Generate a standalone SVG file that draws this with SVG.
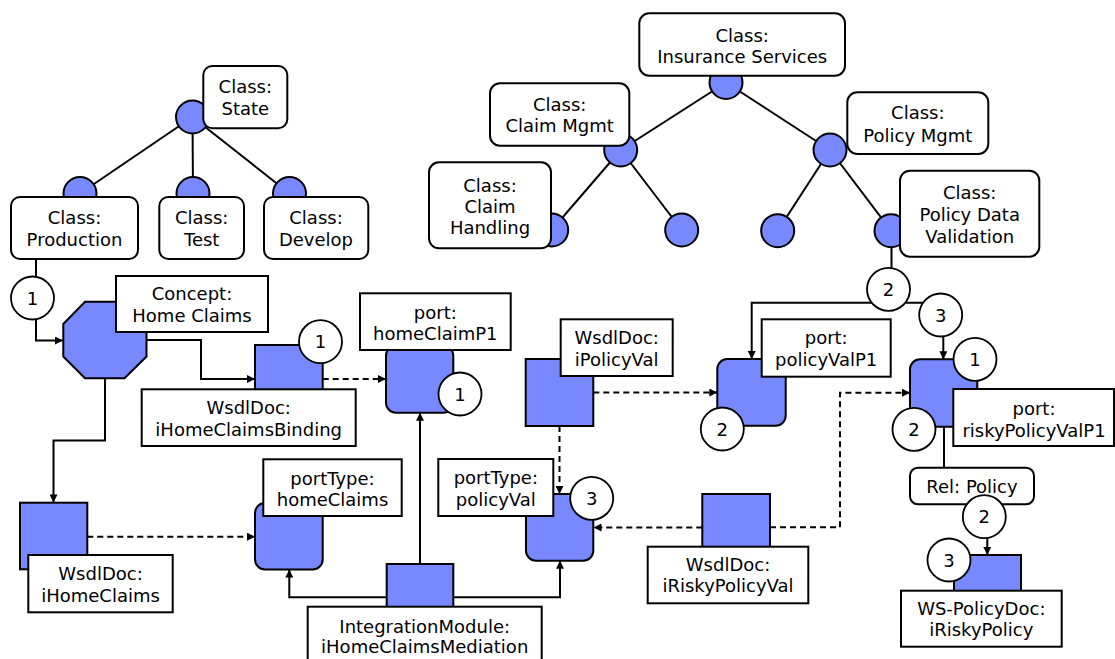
<svg xmlns="http://www.w3.org/2000/svg" width="1115" height="659" viewBox="0 0 1115 659">
  <defs>
    <marker id="arrow" viewBox="0 0 10 10" refX="10" refY="5" markerUnits="userSpaceOnUse" markerWidth="9" markerHeight="8" orient="auto">
      <path d="M0,0 L10,5 L0,10 z" fill="#000"/>
    </marker>
    <style>
      text { font-family: "DejaVu Sans", Verdana, sans-serif; font-size: 18px; fill: #000; text-anchor: middle; }
      .box { fill: #fff; stroke: #000; stroke-width: 2; }
      .blue { fill: #7889FF; stroke: #000; stroke-width: 2; }
      .badge { fill: #fff; stroke: #000; stroke-width: 1.8; }
      .line { fill: none; stroke: #000; stroke-width: 2; }
      .arrow { fill: none; stroke: #000; stroke-width: 2; marker-end: url(#arrow); }
      .dash { fill: none; stroke: #000; stroke-width: 2; stroke-dasharray: 6 4; marker-end: url(#arrow); }
    </style>
  </defs>
  <rect width="1115" height="659" fill="#fff"/>

  <!-- connectors -->
  <g id="connectors">
    <!-- State hierarchy -->
    <line class="line" x1="192.5" y1="117" x2="80" y2="193.5"/>
    <line class="line" x1="192.5" y1="117" x2="193" y2="193.5"/>
    <line class="line" x1="192.5" y1="117" x2="289.5" y2="193.5"/>
    <!-- Insurance Services hierarchy -->
    <line class="line" x1="726" y1="82.5" x2="620.7" y2="150"/>
    <line class="line" x1="726" y1="82.5" x2="830" y2="150"/>
    <line class="line" x1="620.7" y1="150" x2="551.7" y2="230"/>
    <line class="line" x1="620.7" y1="150" x2="681.7" y2="230"/>
    <line class="line" x1="830" y1="150" x2="777.7" y2="230.7"/>
    <line class="line" x1="830" y1="150" x2="891" y2="230.7"/>
    <!-- Production -> Home Claims -->
    <path class="arrow" d="M36,259 V340.5 H63"/>
    <!-- Home Claims -> WSDL docs -->
    <path class="arrow" d="M146.5,340 H201 V379 H255"/>
    <path class="arrow" d="M105,378 V440.5 H53.5 V502.5"/>
    <!-- WSDL docs -> ports / port types -->
    <path class="dash" d="M322.7,379 H386"/>
    <path class="dash" d="M87.3,536.7 H255"/>
    <!-- Integration module -->
    <path class="arrow" d="M420,564 V412.7"/>
    <path class="arrow" d="M386.7,597.3 H289.3 V569.5"/>
    <path class="arrow" d="M453.3,597.3 H560 V560.7"/>
    <!-- iPolicyVal -->
    <path class="dash" d="M593.3,392.5 H717.3"/>
    <path class="dash" d="M559.5,426 V494"/>
    <!-- iRiskyPolicyVal -->
    <path class="dash" d="M702.3,527.5 H593.5"/>
    <path class="dash" d="M770,527.3 H840 V392.7 H910"/>
    <!-- Policy Data Validation -> ports -->
    <path class="line" d="M891.5,230.7 V302.7"/>
    <path class="arrow" d="M891.5,302.7 H751.7 V359"/>
    <path class="arrow" d="M891.5,302.7 H943.3 V359.3"/>
    <!-- riskyPolicyValP1 -> Rel: Policy -> WS-PolicyDoc -->
    <path class="line" d="M944,426.7 V467.7"/>
    <path class="arrow" d="M987.3,504.3 V555"/>
  </g>

  <!-- class tree: State -->
  <g id="class-state">
    <circle class="blue" cx="192.5" cy="117" r="16.5"/>
    <rect class="box" x="203.3" y="66" width="84" height="62.3" rx="9"/>
    <text x="245.3" y="93.3">Class:</text>
    <text x="245.3" y="115">State</text>
  </g>
  <g id="class-production">
    <circle class="blue" cx="80" cy="193.5" r="16.5"/>
    <rect class="box" x="11" y="197" width="127" height="62" rx="9"/>
    <text x="74.5" y="224">Class:</text>
    <text x="74.5" y="246">Production</text>
  </g>
  <g id="class-test">
    <circle class="blue" cx="193" cy="193.5" r="16.5"/>
    <rect class="box" x="159.3" y="197" width="84.7" height="62" rx="9"/>
    <text x="201.7" y="224">Class:</text>
    <text x="201.7" y="246">Test</text>
  </g>
  <g id="class-develop">
    <circle class="blue" cx="289.5" cy="193.5" r="16.5"/>
    <rect class="box" x="264" y="197" width="104.3" height="62" rx="9"/>
    <text x="316" y="224">Class:</text>
    <text x="316" y="246">Develop</text>
  </g>

  <!-- class tree: Insurance Services -->
  <g id="class-insurance-services">
    <circle class="blue" cx="726" cy="82.5" r="16.5"/>
    <rect class="box" x="639.3" y="13.3" width="205.7" height="62.4" rx="10"/>
    <text x="742.2" y="41.7">Class:</text>
    <text x="742.2" y="63.3">Insurance Services</text>
  </g>
  <g id="class-claim-mgmt">
    <circle class="blue" cx="620.7" cy="150" r="16.5"/>
    <rect class="box" x="490" y="83.3" width="139.3" height="62.4" rx="10"/>
    <text x="559.7" y="111">Class:</text>
    <text x="559.7" y="132.3">Claim Mgmt</text>
  </g>
  <g id="class-claim-handling">
    <circle class="blue" cx="551.7" cy="230" r="16.5"/>
    <rect class="box" x="429" y="162.3" width="122" height="86" rx="10"/>
    <text x="490" y="191.7">Class:</text>
    <text x="490" y="213.3">Claim</text>
    <text x="490" y="234.3">Handling</text>
  </g>
  <g id="class-claim-other">
    <circle class="blue" cx="681.7" cy="230" r="16.5"/>
  </g>
  <g id="class-policy-mgmt">
    <circle class="blue" cx="830" cy="150" r="16.5"/>
    <rect class="box" x="847.3" y="92.3" width="141" height="61.7" rx="10"/>
    <text x="917.8" y="119.3">Class:</text>
    <text x="917.8" y="142.3">Policy Mgmt</text>
  </g>
  <g id="class-policy-other">
    <circle class="blue" cx="777.7" cy="230.7" r="16.5"/>
  </g>
  <g id="class-policy-data-validation">
    <circle class="blue" cx="891" cy="230.7" r="16.5"/>
    <rect class="box" x="900" y="170.7" width="139.3" height="86" rx="10"/>
    <text x="969.7" y="199">Class:</text>
    <text x="969.7" y="221">Policy Data</text>
    <text x="969.7" y="242.7">Validation</text>
  </g>

  <!-- concept -->
  <g id="concept-home-claims">
    <polygon class="blue" points="85,301.7 124.5,301.7 146.5,324 146.5,356.5 124.5,378.3 85,378.3 63.3,356.5 63.3,324"/>
    <rect class="box" x="116" y="276" width="152" height="56"/>
    <text x="192" y="300">Concept:</text>
    <text x="192" y="321.7">Home Claims</text>
  </g>

  <!-- WSDL documents -->
  <g id="wsdl-ihomeclaimsbinding">
    <rect class="blue" x="255" y="345" width="67.7" height="67"/>
    <rect class="box" x="141.7" y="389.3" width="214" height="56.7"/>
    <text x="248.7" y="414">WsdlDoc:</text>
    <text x="248.7" y="436">iHomeClaimsBinding</text>
  </g>
  <g id="wsdl-ihomeclaims">
    <rect class="blue" x="20" y="502.7" width="67.3" height="66.6"/>
    <rect class="box" x="28.3" y="555" width="144.4" height="57.3"/>
    <text x="100.5" y="580">WsdlDoc:</text>
    <text x="100.5" y="601.7">iHomeClaims</text>
  </g>
  <g id="wsdl-ipolicyval">
    <rect class="blue" x="525.7" y="359" width="67.6" height="67"/>
    <rect class="box" x="560.7" y="319.3" width="112" height="56.7"/>
    <text x="616.7" y="344">WsdlDoc:</text>
    <text x="616.7" y="366">iPolicyVal</text>
  </g>
  <g id="wsdl-iriskypolicyval">
    <rect class="blue" x="702.3" y="494" width="67.7" height="67"/>
    <rect class="box" x="647.7" y="546.7" width="160.6" height="56.6"/>
    <text x="728" y="570.7">WsdlDoc:</text>
    <text x="728" y="591.7">iRiskyPolicyVal</text>
  </g>

  <!-- integration module -->
  <g id="integration-module">
    <rect class="blue" x="386.7" y="564" width="66.6" height="67"/>
    <rect class="box" x="307.7" y="606.7" width="234" height="56"/>
    <text x="424.7" y="632.5">IntegrationModule:</text>
    <text x="424.7" y="653.3">iHomeClaimsMediation</text>
  </g>

  <!-- ports and port types -->
  <g id="port-homeclaimp1">
    <rect class="blue" x="386" y="345.7" width="67.3" height="67" rx="10"/>
    <rect class="box" x="360" y="293.3" width="150.7" height="56.7"/>
    <text x="435.3" y="319.3">port:</text>
    <text x="435.3" y="340">homeClaimP1</text>
  </g>
  <g id="porttype-homeclaims">
    <rect class="blue" x="255" y="503" width="67.7" height="66.5" rx="10"/>
    <rect class="box" x="263.3" y="459.3" width="138.4" height="56.7"/>
    <text x="332.5" y="484.5">portType:</text>
    <text x="332.5" y="505.5">homeClaims</text>
  </g>
  <g id="porttype-policyval">
    <rect class="blue" x="526" y="494" width="67.3" height="66.7" rx="10"/>
    <rect class="box" x="438.3" y="459" width="115" height="57"/>
    <text x="495.8" y="484.3">portType:</text>
    <text x="495.8" y="506">policyVal</text>
  </g>
  <g id="port-policyvalp1">
    <rect class="blue" x="717.3" y="359" width="68.4" height="66.7" rx="10"/>
    <rect class="box" x="761.7" y="319.3" width="129" height="57.4"/>
    <text x="826.2" y="344">port:</text>
    <text x="826.2" y="366">policyValP1</text>
  </g>
  <g id="port-riskypolicyvalp1">
    <rect class="blue" x="910" y="359.3" width="67.3" height="67.4" rx="10"/>
    <rect class="box" x="953.3" y="389" width="160.7" height="57"/>
    <text x="1034" y="415">port:</text>
    <text x="1034" y="436.7">riskyPolicyValP1</text>
  </g>

  <!-- relation and policy document -->
  <g id="rel-policy">
    <rect class="box" x="910" y="467.7" width="124" height="36.6" rx="8"/>
    <text x="972" y="493.3">Rel: Policy</text>
  </g>
  <g id="ws-policydoc-iriskypolicy">
    <rect class="blue" x="954" y="555" width="67" height="67"/>
    <rect class="box" x="901" y="590.7" width="160.7" height="56"/>
    <text x="981.3" y="615">WS-PolicyDoc:</text>
    <text x="981.3" y="636">iRiskyPolicy</text>
  </g>

  <!-- numbered badges -->
  <g id="badges">
    <circle class="badge" cx="32.5" cy="298" r="21.5"/><text x="32.5" y="304.5">1</text>
    <circle class="badge" cx="320.5" cy="341.7" r="21.5"/><text x="320.5" y="348.2">1</text>
    <circle class="badge" cx="460" cy="394" r="21.5"/><text x="460" y="400.5">1</text>
    <circle class="badge" cx="591.7" cy="498.3" r="21.5"/><text x="591.7" y="504.8">3</text>
    <circle class="badge" cx="722.3" cy="429" r="21.5"/><text x="722.3" y="435.5">2</text>
    <circle class="badge" cx="888.5" cy="289.3" r="21.5"/><text x="888.5" y="295.8">2</text>
    <circle class="badge" cx="940.7" cy="315" r="21.5"/><text x="940.7" y="321.5">3</text>
    <circle class="badge" cx="975" cy="359.3" r="21.5"/><text x="975" y="365.8">1</text>
    <circle class="badge" cx="914" cy="429.3" r="21.5"/><text x="914" y="435.8">2</text>
    <circle class="badge" cx="984.3" cy="516.7" r="21.5"/><text x="984.3" y="523.2">2</text>
    <circle class="badge" cx="949" cy="560" r="21.5"/><text x="949" y="566.5">3</text>
  </g>
</svg>
